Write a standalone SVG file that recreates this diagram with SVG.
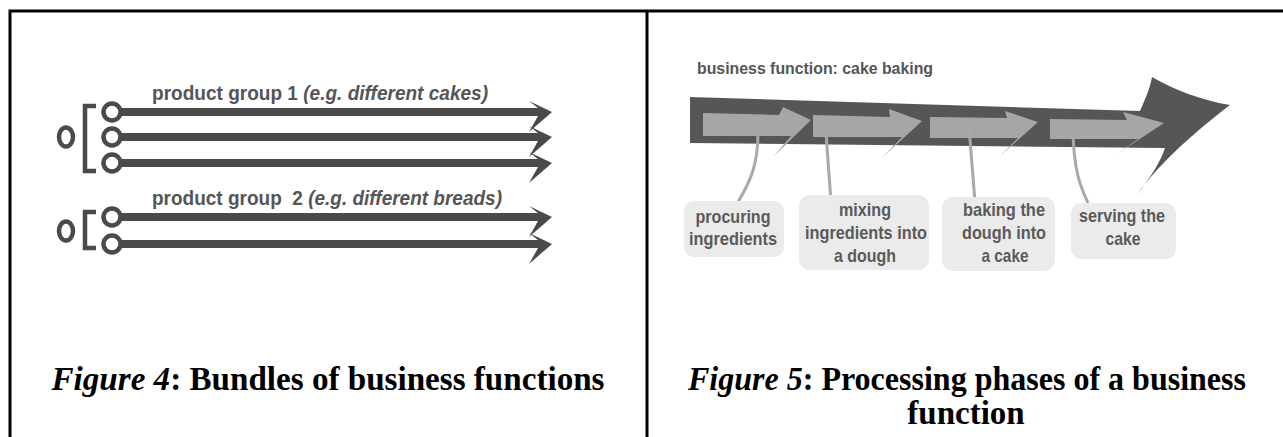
<svg xmlns="http://www.w3.org/2000/svg" width="1283" height="437" viewBox="0 0 1283 437">
  <defs>
    <style>
      .frame { stroke: #000; stroke-width: 3; fill: none; }
      .ring { fill: #fff; stroke: #4a4a4a; stroke-width: 4.5; }
      .shaft { stroke: #4a4a4a; stroke-width: 8; fill: none; }
      .head { fill: #4a4a4a; }
      .bracket { stroke: #4a4a4a; stroke-width: 4.5; fill: none; }
      .lbl { font-family: "Liberation Sans Narrow", "Liberation Sans", Arial, sans-serif; font-weight: bold; fill: #555; }
      .it { font-style: italic; }
      .phase { fill: #ebebeb; }
      .ptxt { font-family: "Liberation Sans Narrow", "Liberation Sans", Arial, sans-serif; font-weight: bold; font-size: 19px; fill: #5a5a5a; text-anchor: middle; }
      .chev { fill: #a6a6a6; }
      .conn { stroke: #a8a8a8; stroke-width: 3; fill: none; }
      .cap { font-family: "Liberation Serif", "Times New Roman", serif; font-weight: bold; font-size: 33px; fill: #000; text-anchor: middle; }
    </style>
    <!-- arrow end used by every bundle line; tip at the origin -->
    <polygon id="tip" class="head" points="-23,-11 0,0 -23,20 -14,4 -14,-4"/>
  </defs>

  <!-- page frame and column divider -->
  <g id="frame">
    <polyline class="frame" points="10,437 10,11 1283,11"/>
    <line class="frame" x1="647" y1="11" x2="647" y2="437"/>
  </g>

  <!-- left column: bundles of business functions -->
  <g id="bundle1">
    <text class="lbl" x="152" y="100" font-size="20" textLength="336" lengthAdjust="spacingAndGlyphs">product group 1 <tspan class="it">(e.g. different cakes)</tspan></text>
    <ellipse class="ring" cx="66" cy="137" rx="7" ry="9.5"/>
    <polyline class="bracket" points="96,106 85,106 85,171 96,171"/>
    <line class="shaft" x1="114" y1="112" x2="540" y2="112"/>
    <line class="shaft" x1="114" y1="137" x2="540" y2="137"/>
    <line class="shaft" x1="114" y1="163" x2="540" y2="163"/>
    <circle class="ring" cx="112" cy="112" r="8.5"/>
    <circle class="ring" cx="112" cy="137" r="8.5"/>
    <circle class="ring" cx="112" cy="163" r="8.5"/>
    <use href="#tip" x="552" y="112"/>
    <use href="#tip" x="552" y="137"/>
    <use href="#tip" x="552" y="163"/>
  </g>

  <g id="bundle2">
    <text class="lbl" x="152" y="205" font-size="20" textLength="350" lengthAdjust="spacingAndGlyphs" style="white-space:pre">product group  2 <tspan class="it">(e.g. different breads)</tspan></text>
    <ellipse class="ring" cx="66" cy="231" rx="7" ry="9.5"/>
    <polyline class="bracket" points="96,212 85,212 85,248 96,248"/>
    <line class="shaft" x1="114" y1="217" x2="540" y2="217"/>
    <line class="shaft" x1="114" y1="244" x2="540" y2="244"/>
    <circle class="ring" cx="112" cy="217" r="8.5"/>
    <circle class="ring" cx="112" cy="244" r="8.5"/>
    <use href="#tip" x="552" y="217"/>
    <use href="#tip" x="552" y="244"/>
  </g>

  <!-- right column: one business function split into phases -->
  <g id="function">
    <text class="lbl" x="697" y="74" font-size="17" textLength="236" lengthAdjust="spacingAndGlyphs">business function: cake baking</text>
    <path fill="#565656" d="M690,97 L1140,111 C1145,100 1150,88 1152,77 C1175,90 1200,100 1230,105 C1195,132 1160,162 1137,195 C1150,178 1160,163 1165,148 L690,143 Z"/>
  </g>

  <g id="phase-arrows">
    <polygon class="chev" points="703,113 779,115 783,107 811,120 773,157 791,136 703,136"/>
    <polygon class="chev" points="813,115 890,117 889,109 922,121 883,157 902,137 813,137"/>
    <polygon class="chev" points="930,117 1007,118 1005,111 1038,122 999,157 1018,138 930,138"/>
    <polygon class="chev" points="1050,119 1127,120 1123,112 1164,123 1117,154 1138,139 1050,139"/>
  </g>

  <g id="connectors">
    <path class="conn" d="M758,133 C758,165 750,182 738,202"/>
    <path class="conn" d="M826,133 L831,202"/>
    <path class="conn" d="M969,127 L975,202"/>
    <path class="conn" d="M1073,133 C1074,170 1080,186 1088,203"/>
  </g>

  <g id="phase-procuring">
    <rect class="phase" x="684" y="201" width="100" height="56" rx="10"/>
    <text class="ptxt" x="733" y="223" textLength="75" lengthAdjust="spacingAndGlyphs">procuring</text>
    <text class="ptxt" x="733" y="245" textLength="88" lengthAdjust="spacingAndGlyphs">ingredients</text>
  </g>

  <g id="phase-mixing">
    <rect class="phase" x="799" y="195" width="130" height="75" rx="11"/>
    <text class="ptxt" x="865" y="216" textLength="52" lengthAdjust="spacingAndGlyphs">mixing</text>
    <text class="ptxt" x="866" y="239" textLength="122" lengthAdjust="spacingAndGlyphs">ingredients into</text>
    <text class="ptxt" x="865" y="262" textLength="62" lengthAdjust="spacingAndGlyphs">a dough</text>
  </g>

  <g id="phase-baking">
    <rect class="phase" x="942" y="197" width="113" height="74" rx="11"/>
    <text class="ptxt" x="1004" y="216" textLength="82" lengthAdjust="spacingAndGlyphs">baking the</text>
    <text class="ptxt" x="1004" y="239" textLength="84" lengthAdjust="spacingAndGlyphs">dough into</text>
    <text class="ptxt" x="1005" y="262" textLength="47" lengthAdjust="spacingAndGlyphs">a cake</text>
  </g>

  <g id="phase-serving">
    <rect class="phase" x="1071" y="203" width="105" height="56" rx="10"/>
    <text class="ptxt" x="1122" y="222" textLength="86" lengthAdjust="spacingAndGlyphs">serving the</text>
    <text class="ptxt" x="1123" y="245" textLength="35" lengthAdjust="spacingAndGlyphs">cake</text>
  </g>

  <!-- captions -->
  <g id="captions">
    <text class="cap" x="328" y="390" textLength="553" lengthAdjust="spacingAndGlyphs"><tspan font-style="italic">Figure 4</tspan>: Bundles of business functions</text>
    <text class="cap" x="967" y="390" textLength="558" lengthAdjust="spacingAndGlyphs"><tspan font-style="italic">Figure 5</tspan>: Processing phases of a business</text>
    <text class="cap" x="966" y="424">function</text>
  </g>
</svg>
